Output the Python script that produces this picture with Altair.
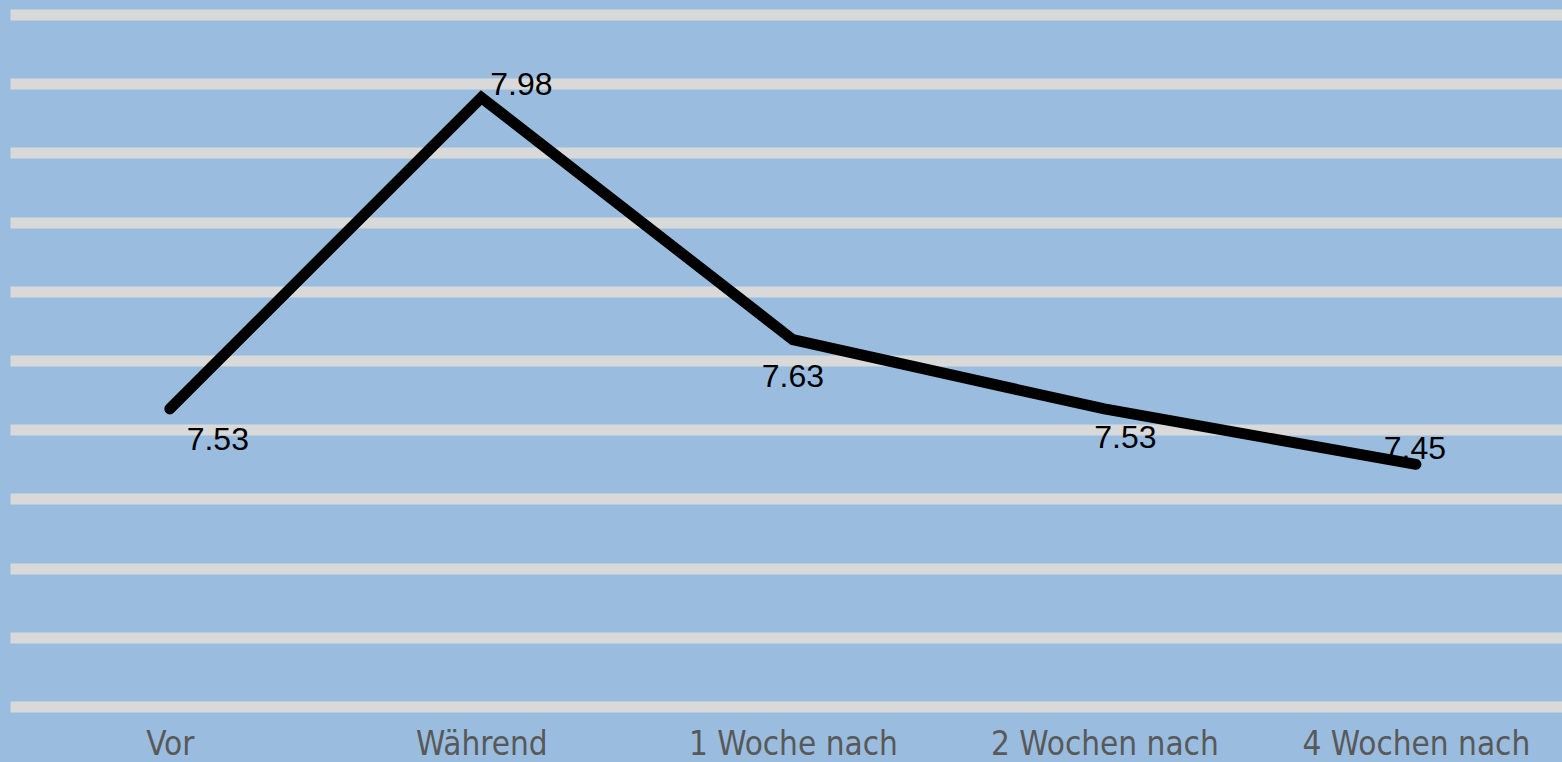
import altair as alt
import pandas as pd

categories = ["Vor", "Während", "1 Woche nach", "2 Wochen nach", "4 Wochen nach"]
values = [7.53, 7.98, 7.63, 7.53, 7.45]
value_labels = ["7.53", "7.98", "7.63", "7.53", "7.45"]

df = pd.DataFrame({
    "idx": list(range(len(categories))),
    "cat": categories,
    "value": values,
    "label": value_labels,
})

label_expr = "[" + ",".join("'" + c + "'" for c in categories) + "][datum.value]"

x_enc = alt.X(
    "idx:Q",
    scale=alt.Scale(domain=[-0.513, 4.469], nice=False, zero=False),
    axis=alt.Axis(
        values=list(range(len(categories))),
        labelExpr=label_expr,
        grid=False,
        domain=False,
        ticks=False,
        tickSize=0,
        labelPadding=48,
        labelBaseline="alphabetic",
        labelFontSize=33,
        labelLimit=0,
        labelFont="Liberation Sans Narrow, DejaVu Sans Condensed, sans-serif",
        labelColor="#595959",
        labelFlush=False,
        labelOverlap=False,
        title=None,
    ),
)

y_enc = alt.Y(
    "value:Q",
    scale=alt.Scale(domain=[7.1, 8.1], nice=False, zero=False),
    axis=alt.Axis(
        tickCount=10,
        labels=False,
        domain=False,
        ticks=False,
        grid=True,
        gridColor="#D9D9D9",
        gridWidth=11,
        title=None,
    ),
)

base = alt.Chart(df)

line = base.mark_line(
    color="black", strokeWidth=11, strokeCap="round", strokeJoin="miter"
).encode(x=x_enc, y=y_enc)

# label offsets (style) per point
offsets = [(48, 31), (40, -13), (0, 37), (21, 29), (-1, -15)]
text_layers = []
for i, (ddx, ddy) in enumerate(offsets):
    t = base.transform_filter(alt.datum.idx == i).mark_text(
        dx=ddx, dy=ddy, fontSize=32, font="Liberation Sans, Arial, sans-serif",
        color="black", align="center", baseline="middle"
    ).encode(
        x=alt.X("idx:Q"),
        y=alt.Y("value:Q"),
        text="label:N",
    )
    text_layers.append(t)

chart = alt.layer(line, *text_layers).properties(
    width=1552,
    height=692,
    padding={"left": 10, "top": 14.5, "right": 0, "bottom": 55.5},
    autosize=alt.AutoSizeParams(type="none"),
    background="#9ABDDF",
).configure_view(stroke=None)

chart.save("out.html", embed_options={"renderer": "svg", "actions": False})
